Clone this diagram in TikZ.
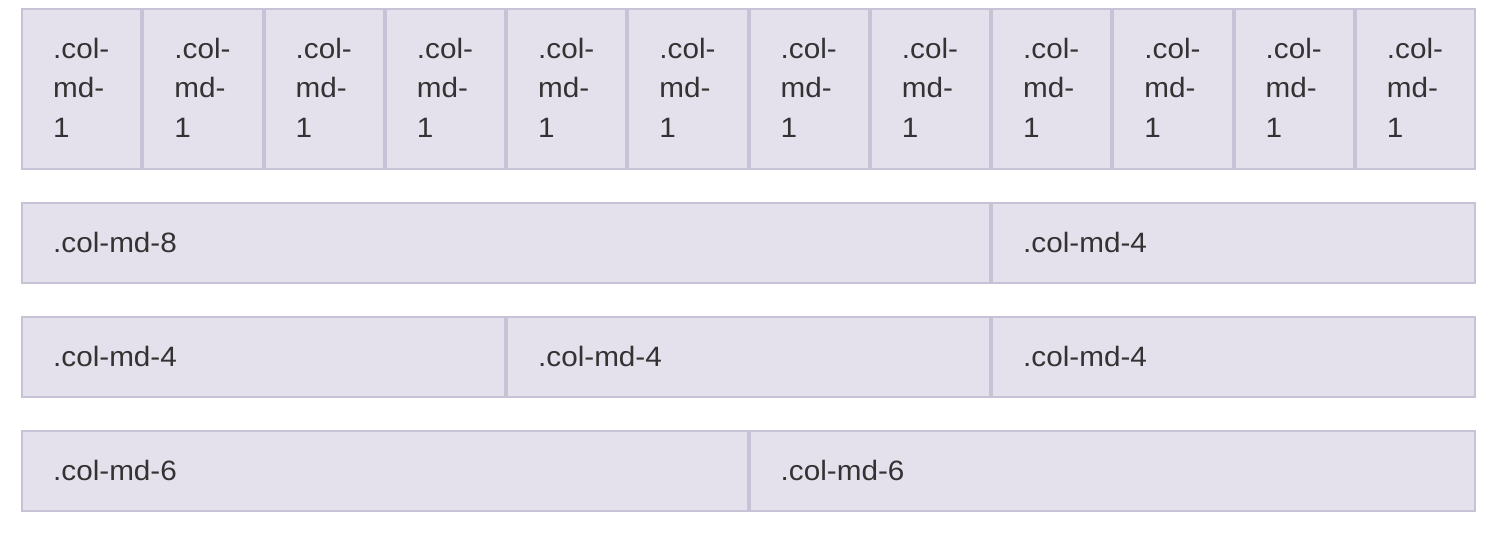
\documentclass[tikz,border=0pt]{standalone}
\usepackage{fontspec}
\setmainfont{Liberation Sans}[FakeStretch=1.06]
\definecolor{cellfill}{HTML}{E5E1EC}
\definecolor{cellline}{HTML}{C7C2D6}
\definecolor{celltext}{HTML}{333333}
\begin{document}
\begin{tikzpicture}[x=1pt,y=-1pt,
  cell/.style={draw=cellline,fill=cellfill,line width=2pt,inner sep=0pt,
    anchor=north west,rectangle},
  label/.style={text=celltext,inner sep=0pt,anchor=base west,
    font=\fontsize{28}{39.5}\selectfont,align=left}]
\useasboundingbox (0,0) rectangle (1506,536);
% row 1: twelve single-width columns (label anchored at its last baseline)
\foreach \i in {0,...,11}{
  \pgfmathsetmacro{\xa}{20+\i*121.25}
  \node[cell,minimum width=119.25pt,minimum height=160pt] (a\i) at (\xa+1,8) {};
  \node[label] (ta\i) at ([xshift=32pt,yshift=-129pt]a\i.north west) {.col-\\md-\\1};
}
% row 2: 8 + 4
\node[cell,minimum width=968pt,minimum height=80pt] (b0) at (21,202) {};
\node[label] (tb0) at ([xshift=32pt,yshift=-50pt]b0.north west) {.col-md-8};
\node[cell,minimum width=483pt,minimum height=80pt] (b1) at (991,202) {};
\node[label] (tb1) at ([xshift=32pt,yshift=-50pt]b1.north west) {.col-md-4};
% row 3: 4 + 4 + 4
\foreach \i/\xa in {0/21,1/506,2/991}{
  \node[cell,minimum width=483pt,minimum height=80pt] (c\i) at (\xa,316) {};
  \node[label] (tc\i) at ([xshift=32pt,yshift=-50pt]c\i.north west) {.col-md-4};
}
% row 4: 6 + 6
\foreach \i/\xa in {0/21,1/748.5}{
  \node[cell,minimum width=725.5pt,minimum height=80pt] (d\i) at (\xa,430) {};
  \node[label] (td\i) at ([xshift=32pt,yshift=-50pt]d\i.north west) {.col-md-6};
}
\end{tikzpicture}
\end{document}
